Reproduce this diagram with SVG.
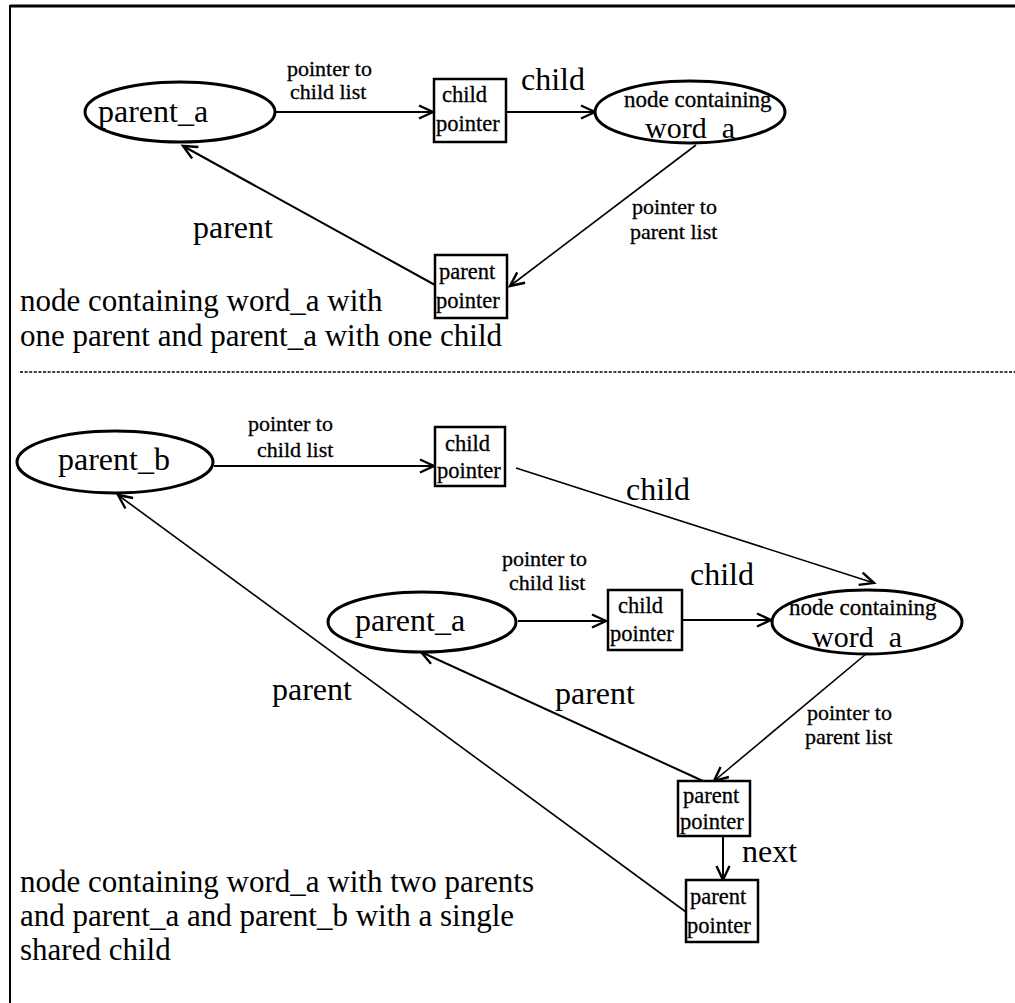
<svg xmlns="http://www.w3.org/2000/svg" width="1015" height="1003" viewBox="0 0 1015 1003">
  <defs>
    <marker id="arr" markerWidth="18" markerHeight="16" refX="15" refY="8" orient="auto" markerUnits="userSpaceOnUse">
      <path d="M1,1.5 L15,8 L1,14.5" fill="none" stroke="#000" stroke-width="2.4" stroke-linejoin="miter"/>
    </marker>
  </defs>
  <style>
    text { font-family: "Liberation Serif", "Times New Roman", serif; fill: #000; }
    .big { font-size: 32px; }
    .cap { font-size: 31px; }
    .lbl { font-size: 22px; stroke: #000; stroke-width: 0.3; }
    .box { font-size: 22.5px; stroke: #000; stroke-width: 0.3; }
    .nd { font-size: 23px; stroke: #000; stroke-width: 0.3; }
    .wd { font-size: 30px; white-space: pre; }
    .ell { fill: #fff; stroke: #000; stroke-width: 3; }
    .rect { fill: #fff; stroke: #000; stroke-width: 2.5; }
    .con { fill: none; stroke: #000; stroke-width: 2; marker-end: url(#arr); }
    .thin { stroke-width: 1.6; }
  </style>
  <rect width="1015" height="1003" fill="#fff"/>

  <!-- frame and panel divider -->
  <g id="frame">
    <line x1="10" y1="6" x2="1015" y2="6" stroke="#000" stroke-width="2.8"/>
    <line x1="10" y1="5" x2="10" y2="1003" stroke="#000" stroke-width="2"/>
    <line x1="20" y1="372" x2="1015" y2="372" stroke="#000" stroke-width="1.6" stroke-dasharray="3 1.6"/>
  </g>

  <!-- connectors -->
  <g id="connectors">
    <!-- upper panel -->
    <path class="con" d="M276,112 H433"/>
    <path class="con" d="M507,112 H595"/>
    <path class="con thin" d="M696,145 L510,286"/>
    <path class="con" d="M435,285 L183,146"/>
    <!-- lower panel -->
    <path class="con" d="M214,466 H434"/>
    <path class="con thin" d="M516,468 L874,583"/>
    <path class="con" d="M518,621 H606"/>
    <path class="con" d="M683,620 H771"/>
    <path class="con thin" d="M866,654 L714,781"/>
    <path class="con" d="M703,781 L421,652"/>
    <path class="con" d="M723,836 V880"/>
    <path class="con thin" d="M686,912 L118,495"/>
  </g>

  <!-- upper panel nodes -->
  <g id="top-parent-a">
    <ellipse class="ell" cx="180" cy="112" rx="95" ry="30"/>
    <text class="big" x="98" y="122">parent_a</text>
  </g>
  <g id="top-child-pointer">
    <rect class="rect" x="434" y="79" width="72" height="63"/>
    <text class="box" x="442" y="102">child</text>
    <text class="box" x="436" y="131">pointer</text>
  </g>
  <g id="top-word-a">
    <ellipse class="ell" cx="690" cy="112" rx="95" ry="31"/>
    <text class="nd" x="624" y="107">node containing</text>
    <text class="wd" x="645" y="138">word  a</text>
  </g>
  <g id="top-parent-pointer">
    <rect class="rect" x="435" y="255" width="72" height="63"/>
    <text class="box" x="439" y="279">parent</text>
    <text class="box" x="436" y="308">pointer</text>
  </g>
  <g id="top-labels">
    <text class="lbl" x="287" y="76">pointer to</text>
    <text class="lbl" x="290" y="99">child list</text>
    <text class="big" x="521" y="90">child</text>
    <text class="lbl" x="632" y="214">pointer to</text>
    <text class="lbl" x="630" y="239">parent list</text>
    <text class="big" x="193" y="238">parent</text>
    <text class="cap" x="20" y="311">node containing word_a with</text>
    <text class="cap" x="20" y="346">one parent and parent_a with one child</text>
  </g>

  <!-- lower panel nodes -->
  <g id="parent-b">
    <ellipse class="ell" cx="115" cy="462" rx="98" ry="31"/>
    <text class="big" x="58" y="470">parent_b</text>
  </g>
  <g id="b-child-pointer">
    <rect class="rect" x="435" y="427" width="70" height="59"/>
    <text class="box" x="445" y="451">child</text>
    <text class="box" x="437" y="478">pointer</text>
  </g>
  <g id="parent-a">
    <ellipse class="ell" cx="422" cy="622" rx="94" ry="30"/>
    <text class="big" x="355" y="631">parent_a</text>
  </g>
  <g id="a-child-pointer">
    <rect class="rect" x="608" y="590" width="74" height="60"/>
    <text class="box" x="618" y="613">child</text>
    <text class="box" x="610" y="641">pointer</text>
  </g>
  <g id="word-a">
    <ellipse class="ell" cx="867" cy="622" rx="95" ry="32"/>
    <text class="nd" x="789" y="615">node containing</text>
    <text class="wd" x="812" y="647">word  a</text>
  </g>
  <g id="parent-pointer-1">
    <rect class="rect" x="678" y="781" width="72" height="55"/>
    <text class="box" x="683" y="803">parent</text>
    <text class="box" x="680" y="829">pointer</text>
  </g>
  <g id="parent-pointer-2">
    <rect class="rect" x="686" y="880" width="72" height="62"/>
    <text class="box" x="690" y="904">parent</text>
    <text class="box" x="687" y="933">pointer</text>
  </g>
  <g id="bottom-labels">
    <text class="lbl" x="248" y="431">pointer to</text>
    <text class="lbl" x="257" y="457">child list</text>
    <text class="big" x="626" y="500">child</text>
    <text class="lbl" x="502" y="566">pointer to</text>
    <text class="lbl" x="509" y="590">child list</text>
    <text class="big" x="690" y="585">child</text>
    <text class="big" x="555" y="704">parent</text>
    <text class="big" x="272" y="700">parent</text>
    <text class="lbl" x="807" y="720">pointer to</text>
    <text class="lbl" x="805" y="744">parent list</text>
    <text class="big" x="742" y="862">next</text>
    <text class="cap" x="20" y="892">node containing word_a with two parents</text>
    <text class="cap" x="20" y="926">and parent_a and parent_b with a single</text>
    <text class="cap" x="20" y="960">shared child</text>
  </g>
</svg>
